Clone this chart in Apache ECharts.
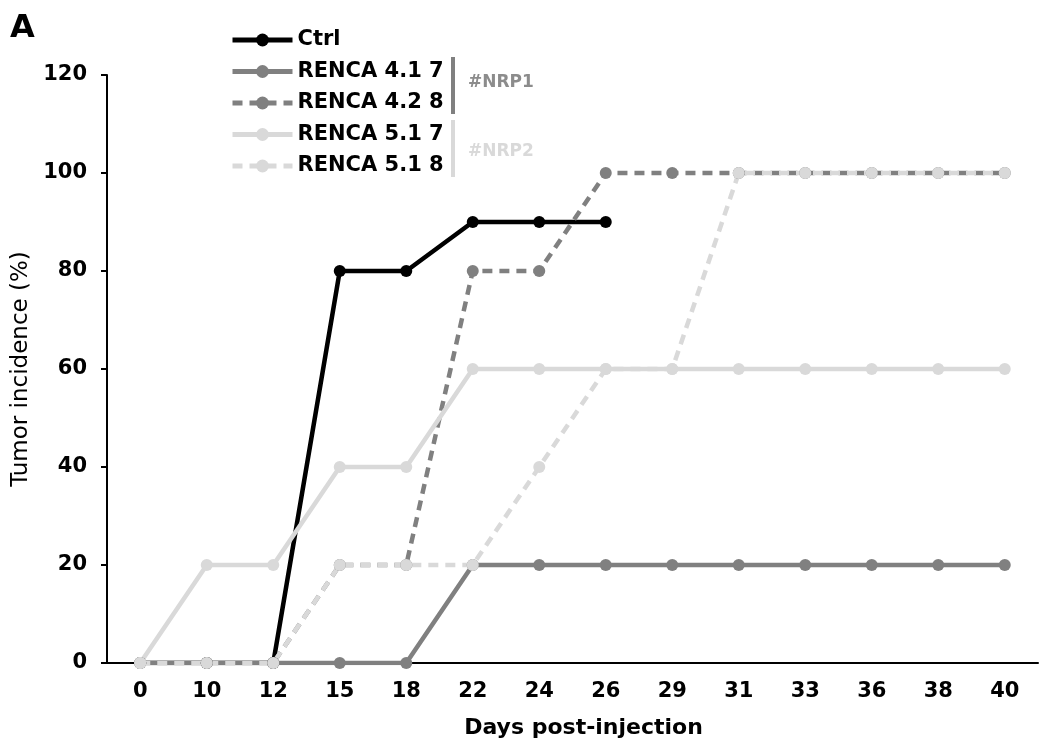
<!DOCTYPE html>
<html>
<head>
<meta charset="utf-8">
<script src="https://cdn.jsdelivr.net/npm/echarts@6/dist/echarts.min.js"></script>
<style>
  html, body { margin: 0; padding: 0; background: #fff; }
  #main { width: 1044px; height: 745px; }
</style>
</head>
<body>
<div id="main"></div>
<script>
// days post-injection (category axis)
var days = ['0', '10', '12', '15', '18', '22', '24', '26', '29', '31', '33', '36', '38', '40'];
// tumor incidence (%) per group
var ctrl     = [0, 0, 0, 80, 80, 90, 90, 90, null, null, null, null, null, null];
var renca417 = [0, 0, 0, 0, 0, 20, 20, 20, 20, 20, 20, 20, 20, 20];
var renca428 = [0, 0, 0, 20, 20, 80, 80, 100, 100, 100, 100, 100, 100, 100];
var renca517 = [0, 20, 20, 40, 40, 60, 60, 60, 60, 60, 60, 60, 60, 60];
var renca518 = [0, 0, 0, 20, 20, 20, 40, 60, 60, 100, 100, 100, 100, 100];
var yTicks = [0, 120, 20]; // min, max, interval

var DARK = '#808080', LIGHT = '#d9d9d9';
var FONT = 'DejaVu Sans';

function mkSeries(name, data, color, dashed) {
    return {
        name: name,
        type: 'line',
        data: data,
        symbol: 'circle',
        symbolSize: 12,
        showAllSymbol: true,
        itemStyle: { color: color },
        lineStyle: { color: color, width: 4.5, type: dashed ? [10, 7] : 'solid' },
        emphasis: { disabled: true }
    };
}

var myChart = echarts.init(document.getElementById('main'));

var option = {
    animation: false,
    backgroundColor: '#fff',
    grid: { left: 107, right: 6, top: 75, bottom: 82 },
    legend: {
        orient: 'vertical',
        left: 230,
        top: 29,
        padding: 0,
        itemWidth: 60,
        itemHeight: 16,
        itemGap: 9.5,
        selectedMode: false,
        lineStyle: { width: 5 },
        textStyle: { fontFamily: FONT, fontWeight: 'bold', fontSize: 21, color: '#000', lineHeight: 22 },
        data: ['Ctrl', 'RENCA 4.1 7', 'RENCA 4.2 8', 'RENCA 5.1 7', 'RENCA 5.1 8']
    },
    xAxis: {
        type: 'category',
        data: days,
        boundaryGap: true,
        name: 'Days post-injection',
        nameLocation: 'middle',
        nameGap: 54,
        nameTextStyle: { fontFamily: FONT, fontWeight: 'bold', fontSize: 22, color: '#000', padding: [0, 0, 0, 22] },
        axisLine: { lineStyle: { color: '#000', width: 2 } },
        axisTick: { length: 6, lineStyle: { color: '#000', width: 2 } },
        axisLabel: { fontFamily: FONT, fontWeight: 'bold', fontSize: 21, color: '#000', margin: 18 },
        splitLine: { show: false }
    },
    yAxis: {
        type: 'value',
        min: yTicks[0],
        max: yTicks[1],
        interval: yTicks[2],
        name: 'Tumor incidence (%)',
        nameLocation: 'middle',
        nameGap: 64,
        nameTextStyle: { fontFamily: FONT, fontSize: 23, color: '#000' },
        axisLine: { show: true, lineStyle: { color: '#000', width: 2 } },
        axisTick: { show: true, length: 6, lineStyle: { color: '#000', width: 2 } },
        axisLabel: { fontFamily: FONT, fontWeight: 'bold', fontSize: 21, color: '#000', margin: 20 },
        splitLine: { show: false }
    },
    graphic: [
        { type: 'text', left: 10, top: 13, style: { text: 'A', fontFamily: FONT, fontWeight: 'bold', fontSize: 32, fill: '#000' } },
        { type: 'rect', shape: { x: 451, y: 57, width: 4, height: 57 }, style: { fill: DARK } },
        { type: 'rect', shape: { x: 451, y: 120, width: 4, height: 57 }, style: { fill: LIGHT } },
        { type: 'text', left: 468, top: 74, style: { text: '#NRP1', fontFamily: FONT, fontWeight: 'bold', fontSize: 17, fill: '#8c8c8c' } },
        { type: 'text', left: 468, top: 143, style: { text: '#NRP2', fontFamily: FONT, fontWeight: 'bold', fontSize: 17, fill: LIGHT } }
    ],
    series: [
        mkSeries('Ctrl', ctrl, '#000', false),
        mkSeries('RENCA 4.1 7', renca417, DARK, false),
        mkSeries('RENCA 4.2 8', renca428, DARK, true),
        mkSeries('RENCA 5.1 7', renca517, LIGHT, false),
        mkSeries('RENCA 5.1 8', renca518, LIGHT, true)
    ]
};

myChart.setOption(option);
</script>
</body>
</html>
